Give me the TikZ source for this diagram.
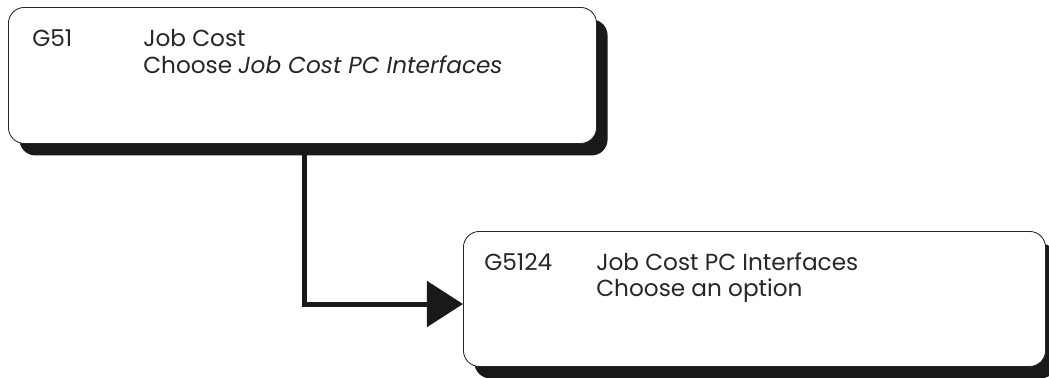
\documentclass[tikz,border=0pt]{standalone}
\usepackage{fontspec}
\setmainfont{Poppins}
\usetikzlibrary{arrows.meta,shadows}

\begin{document}
\begin{tikzpicture}[x=0.025cm,y=-0.025cm,
		menubox/.style={draw=black!85,line width=0.6pt,fill=white,rounded corners=0.4cm,
			inner sep=0pt,anchor=north west,
			general shadow={fill=black!90,shadow xshift=0.275cm,shadow yshift=-0.3cm}},
		menutext/.style={anchor=base west,inner sep=0pt,text=black!85,font=\fontsize{16.5}{20}\selectfont},
		flow/.style={line width=0.125cm,black!90,-{Triangle[length=0.9cm,width=1.125cm]}}]
				\useasboundingbox (0,0) rectangle (1049,377);
				\node[menubox,minimum width=14.7cm,minimum height=3.4cm] (g51) at (8,7) {};
				\node[menubox,minimum width=14.55cm,minimum height=3.375cm] (g5124) at (463,231) {};
				\node[menutext] (g51code) at (32,46) {G51};
				\node[menutext] (g51title) at (143,46) {Job Cost};
				\node[menutext] (g51choose) at (143,73) {Choose \textit{Job Cost PC Interfaces}};
				\node[menutext] (g5124code) at (484,270) {G5124};
				\node[menutext] (g5124title) at (596,270) {Job Cost PC Interfaces};
				\node[menutext] (g5124choose) at (596,296) {Choose an option};
				\coordinate (bend) at (304,304);
				\draw[flow] (g51.south -| bend) -- (bend) -- (bend -| g5124.west);
			\end{tikzpicture}
\end{document}
